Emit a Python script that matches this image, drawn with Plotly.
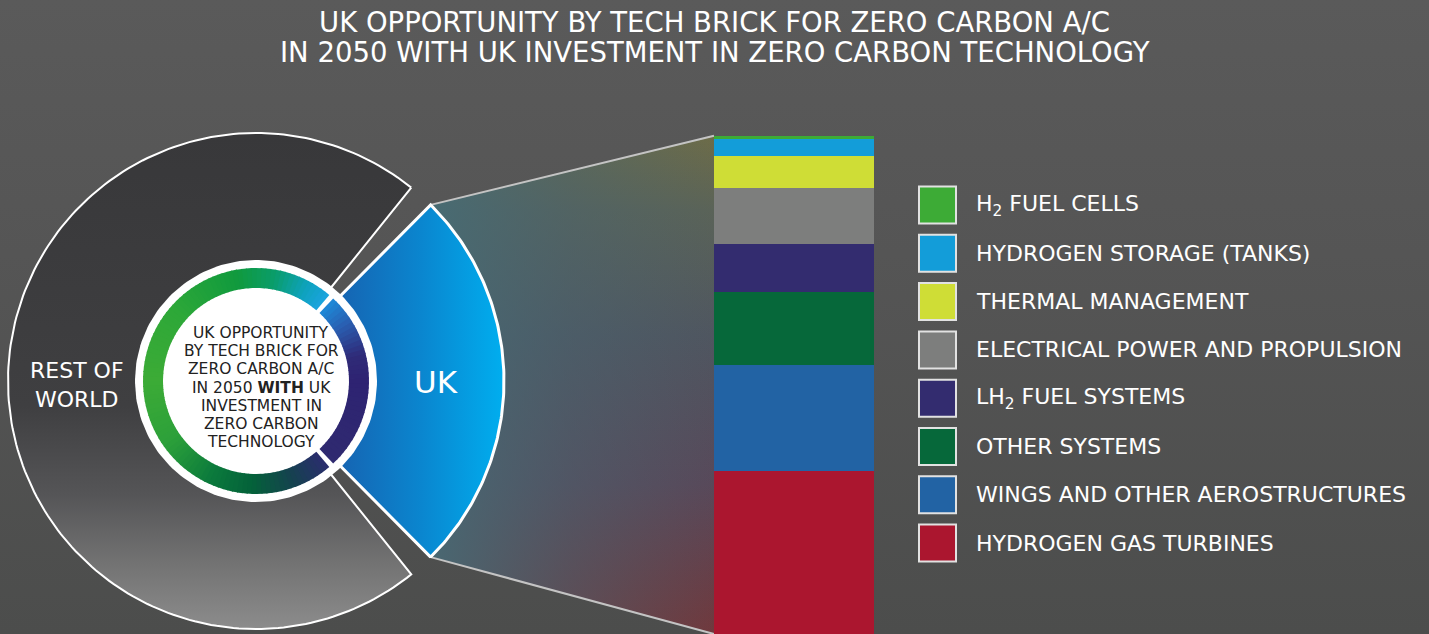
import numpy as np
import plotly.graph_objects as go

W, H = 1429, 634

# data
regions = ["REST OF<br>WORLD", "UK"]
region_share = [74, 26]

bricks = ["H<sub>2</sub> FUEL CELLS", "HYDROGEN STORAGE (TANKS)", "THERMAL MANAGEMENT",
          "ELECTRICAL POWER AND PROPULSION", "LH<sub>2</sub> FUEL SYSTEMS", "OTHER SYSTEMS",
          "WINGS AND OTHER AEROSTRUCTURES", "HYDROGEN GAS TURBINES"]
brick_share = [0.7, 3.4, 6.4, 11.1, 9.8, 14.6, 21.3, 32.7]
brick_colors = ["#3dab36", "#139dd9", "#cfdd36", "#7d7e7d", "#332c6f", "#06683a", "#2263a4", "#ab162f"]

title_lines = ["UK OPPORTUNITY BY TECH BRICK FOR ZERO CARBON A/C",
               "IN 2050 WITH UK INVESTMENT IN ZERO CARBON TECHNOLOGY"]
centre_lines = ["UK OPPORTUNITY", "BY TECH BRICK FOR", "ZERO CARBON A/C", "IN 2050 <b>WITH</b> UK",
                "INVESTMENT IN", "ZERO CARBON", "TECHNOLOGY"]

FONT = "'DejaVu Sans', sans-serif"

# layout constants (pixels, y up)
CX, CY = 256, H - 381
R_OUT, R_IN = 248, 118
DISK_R = 121
RING_IN, RING_OUT = 93, 113
GAP = 6.0
IG = 1.3
BAR_X0, BAR_X1 = 714, 874
BAR_TOP = H - 135.7


def sector(r0, r1, a0, a1, n=90):
    t = np.radians(np.linspace(a0, a1, n))
    xs = np.concatenate([CX + r1 * np.cos(t), CX + r0 * np.cos(t[::-1])])
    ys = np.concatenate([CY + r1 * np.sin(t), CY + r0 * np.sin(t[::-1])])
    return np.append(xs, xs[0]), np.append(ys, ys[0])


def hex2rgb(h):
    return [int(h[i:i + 2], 16) for i in (1, 3, 5)]


def ramp(stops, a):
    angs = [s[0] for s in stops]
    rgb = np.array([hex2rgb(s[1]) for s in stops])
    c = [int(round(np.interp(a, angs, rgb[:, k]))) for k in range(3)]
    return "rgb(%d,%d,%d)" % tuple(c)


fig = go.Figure()

# background
fig.add_trace(go.Scatter(
    x=[0, W, W, 0, 0], y=[0, 0, H, H, 0], mode="lines", fill="toself", line=dict(width=0),
    fillgradient=dict(type="vertical", start=0, stop=H,
                      colorscale=[[0, "#4c4d4c"], [0.6, "#555555"], [1, "#5a5a5a"]]),
    hoverinfo="skip"))

span = 360 - 2 * GAP
uk_half = span * region_share[1] / sum(region_share) / 2
row_a0 = uk_half + GAP
row_a1 = 360 - uk_half - GAP

# connector wedge from UK slice to the bar
ux = CX + R_OUT * np.cos(np.radians(uk_half))
uy_top = CY + R_OUT * np.sin(np.radians(uk_half))
uy_bot = CY - R_OUT * np.sin(np.radians(uk_half))
wx = [ux, BAR_X0, BAR_X0, ux, ux]
wy = [uy_top, BAR_TOP, 0, uy_bot, uy_top]
fig.add_trace(go.Scatter(
    x=wx, y=wy, mode="lines", fill="toself", line=dict(width=0), hoverinfo="skip",
    fillgradient=dict(type="vertical", start=0, stop=BAR_TOP,
                      colorscale=[[0, "#70393d"], [0.3, "#58495a"], [0.6, "#4f5660"],
                                  [0.85, "#5a6358"], [1, "#6d6c48"]])))
fig.add_trace(go.Scatter(
    x=wx, y=wy, mode="lines", fill="toself", line=dict(width=0), hoverinfo="skip",
    fillgradient=dict(type="horizontal", start=ux, stop=BAR_X0,
                      colorscale=[[0, "rgba(70,108,118,0.9)"], [0.5, "rgba(72,100,112,0.45)"],
                                  [1, "rgba(72,100,112,0)"]])))
for yy in (BAR_TOP, 0):
    fig.add_trace(go.Scatter(x=[ux, BAR_X0], y=[uy_top if yy else uy_bot, yy], mode="lines",
                             line=dict(color="#c4c4c4", width=2), hoverinfo="skip"))

# rest of world slice
sx, sy = sector(R_IN, R_OUT, row_a0, row_a1, 200)
fig.add_trace(go.Scatter(
    x=sx, y=sy, mode="lines", fill="toself", line=dict(color="white", width=2), hoverinfo="skip",
    fillgradient=dict(type="vertical", start=CY - R_OUT, stop=CY + R_OUT,
                      colorscale=[[0, "#8c8c8c"], [0.13, "#737373"], [0.27, "#555557"],
                                  [0.45, "#3f3f41"], [1, "#38383a"]])))

# UK slice
sx, sy = sector(R_IN, R_OUT, -uk_half, uk_half, 120)
fig.add_trace(go.Scatter(
    x=sx, y=sy, mode="lines", fill="toself", line=dict(color="white", width=3), hoverinfo="skip",
    fillgradient=dict(type="horizontal", start=CX + R_IN * np.cos(np.radians(uk_half)), stop=CX + R_OUT,
                      colorscale=[[0, "#1664b2"], [0.5, "#0a86cf"], [1, "#00aeef"]])))

# white centre disk
t = np.radians(np.linspace(0, 360, 200))
fig.add_trace(go.Scatter(x=CX + DISK_R * np.cos(t), y=CY + DISK_R * np.sin(t), mode="lines",
                         fill="toself", fillcolor="white", line=dict(width=0), hoverinfo="skip"))

# inner ring, conic gradient made of thin slices
green_stops = [(row_a0 - GAP / 2 + IG, "#1ba4e0"), (62, "#0ea2bd"), (80, "#0a9d6a"), (100, "#109a3e"),
               (140, "#2ea838"), (180, "#3cab36"), (215, "#2ca03a"), (245, "#0b7a3c"),
               (268, "#04613a"), (290, "#15424f"), (row_a1 + GAP / 2 - IG, "#2a2d6e")]
uk_stops = [(-uk_half - GAP / 2 + IG, "#2f2a70"), (0, "#2e2372"), (14, "#2f2b78"),
            (32, "#2a5db0"), (uk_half + GAP / 2 - IG, "#1d8ad8")]
for stops in (green_stops, uk_stops):
    a_lo, a_hi = stops[0][0], stops[-1][0]
    edges = np.linspace(a_lo, a_hi, int((a_hi - a_lo) / 2.5) + 1)
    for a0, a1 in zip(edges[:-1], edges[1:]):
        rx, ry = sector(RING_IN, RING_OUT, a0, min(a1 + 0.5, a_hi), 6)
        fig.add_trace(go.Scatter(x=rx, y=ry, mode="lines", fill="toself", line=dict(width=0),
                                 fillcolor=ramp(stops, (a0 + a1) / 2), hoverinfo="skip"))

# stacked bar of tech bricks (bottom to top)
for name, val, col in list(zip(bricks, brick_share, brick_colors))[::-1]:
    fig.add_trace(go.Bar(x=[0], y=[val], name=name, marker=dict(color=col, line=dict(width=0)),
                         xaxis="x2", yaxis="y2", hovertemplate=name + ": %{y}%<extra></extra>"))

# legend
LEG_X, LEG_TOP, LEG_STEP = 937.5, H - 205, 48.3
leg_y = [LEG_TOP - i * LEG_STEP for i in range(len(bricks))]
fig.add_trace(go.Scatter(
    x=[LEG_X] * len(bricks), y=leg_y, mode="markers", hoverinfo="skip",
    marker=dict(symbol="square", size=37, color=brick_colors, line=dict(color="#e2e2e2", width=2))))
annotations = []
for name, yy in zip(bricks, leg_y):
    annotations.append(dict(x=974, y=yy, text=name, showarrow=False, xanchor="left", yanchor="middle",
                            font=dict(family=FONT, size=22, color="white")))

# labels
annotations.append(dict(x=77, y=H - 385, text=regions[0], showarrow=False,
                        font=dict(family=FONT, size=22, color="white")))
annotations.append(dict(x=436, y=H - 382, text=regions[1], showarrow=False,
                        font=dict(family=FONT, size=31, color="white")))
for i, line in enumerate(centre_lines):
    annotations.append(dict(x=261, y=H - 333 - 18.2 * i, text=line, showarrow=False,
                            font=dict(family=FONT, size=15.5, color="#222222")))
for i, line in enumerate(title_lines):
    annotations.append(dict(x=W / 2, y=H - 22 - 30 * i, text=line, showarrow=False,
                            font=dict(family=FONT, size=27.5, color="white")))

fig.update_layout(
    width=W, height=H, margin=dict(l=0, r=0, t=0, b=0),
    paper_bgcolor="#545454", plot_bgcolor="rgba(0,0,0,0)",
    showlegend=False, barmode="stack", bargap=0,
    xaxis=dict(range=[0, W], visible=False, fixedrange=True),
    yaxis=dict(range=[0, H], visible=False, fixedrange=True),
    xaxis2=dict(domain=[BAR_X0 / W, BAR_X1 / W], range=[-0.5, 0.5], anchor="y2", visible=False,
                fixedrange=True),
    yaxis2=dict(domain=[0, BAR_TOP / H], range=[0, sum(brick_share)], anchor="x2", visible=False,
                fixedrange=True),
    annotations=annotations,
)

fig.write_html("out.html", config={"displayModeBar": False},
               post_script="document.body.style.margin='0';document.body.style.overflow='hidden';")
